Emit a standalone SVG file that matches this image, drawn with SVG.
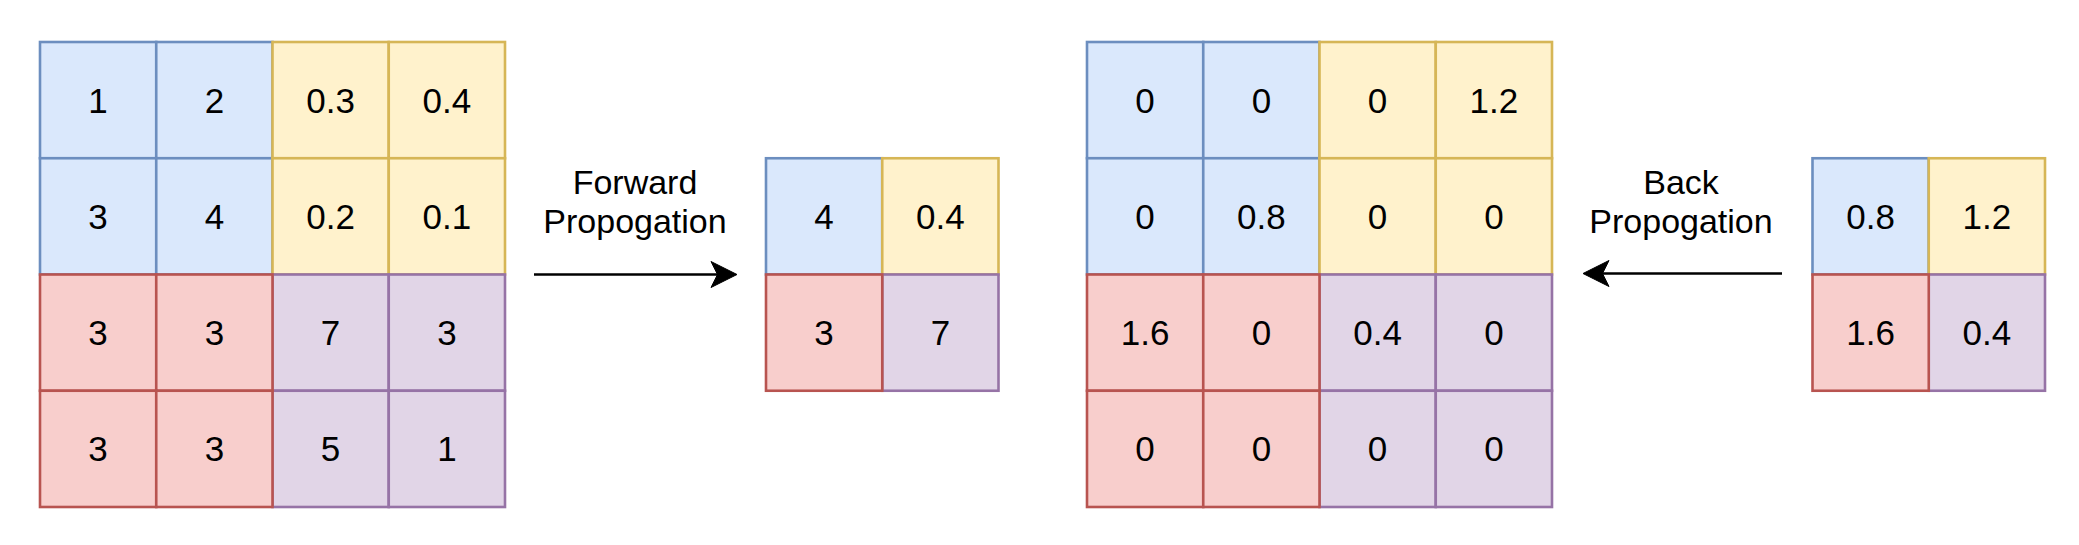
<svg xmlns="http://www.w3.org/2000/svg" width="2079" height="545" viewBox="0 0 2079 545">
<style>
.b{fill:#dae8fc;stroke:#6c8ebf;stroke-width:2.6}
.y{fill:#fff2cc;stroke:#d6b656;stroke-width:2.6}
.r{fill:#f8cecc;stroke:#b85450;stroke-width:2.6}
.p{fill:#e1d5e7;stroke:#9673a6;stroke-width:2.6}
text{font-family:"Liberation Sans",Arial,Helvetica,sans-serif;font-size:35px;fill:#000;text-anchor:middle}
.lbl{font-size:34px}
.edge{stroke:#000;stroke-width:2.6;fill:none}
.head{fill:#000;stroke:#000;stroke-width:1}
</style>
<rect width="2079" height="545" fill="#fff"/>
<g id="input-grid">
<g id="in-0-0"><rect class="b" x="40" y="42" width="116.25" height="116.25"/><text x="98.1" y="112.6">1</text></g>
<g id="in-0-1"><rect class="b" x="156.25" y="42" width="116.25" height="116.25"/><text x="214.4" y="112.6">2</text></g>
<g id="in-1-0"><rect class="b" x="40" y="158.25" width="116.25" height="116.25"/><text x="98.1" y="228.9">3</text></g>
<g id="in-1-1"><rect class="b" x="156.25" y="158.25" width="116.25" height="116.25"/><text x="214.4" y="228.9">4</text></g>
<g id="in-0-2"><rect class="y" x="272.5" y="42" width="116.25" height="116.25"/><text x="330.6" y="112.6">0.3</text></g>
<g id="in-0-3"><rect class="y" x="388.75" y="42" width="116.25" height="116.25"/><text x="446.9" y="112.6">0.4</text></g>
<g id="in-1-2"><rect class="y" x="272.5" y="158.25" width="116.25" height="116.25"/><text x="330.6" y="228.9">0.2</text></g>
<g id="in-1-3"><rect class="y" x="388.75" y="158.25" width="116.25" height="116.25"/><text x="446.9" y="228.9">0.1</text></g>
<g id="in-2-2"><rect class="p" x="272.5" y="274.5" width="116.25" height="116.25"/><text x="330.6" y="345.1">7</text></g>
<g id="in-2-3"><rect class="p" x="388.75" y="274.5" width="116.25" height="116.25"/><text x="446.9" y="345.1">3</text></g>
<g id="in-3-2"><rect class="p" x="272.5" y="390.75" width="116.25" height="116.25"/><text x="330.6" y="461.4">5</text></g>
<g id="in-3-3"><rect class="p" x="388.75" y="390.75" width="116.25" height="116.25"/><text x="446.9" y="461.4">1</text></g>
<g id="in-2-0"><rect class="r" x="40" y="274.5" width="116.25" height="116.25"/><text x="98.1" y="345.1">3</text></g>
<g id="in-2-1"><rect class="r" x="156.25" y="274.5" width="116.25" height="116.25"/><text x="214.4" y="345.1">3</text></g>
<g id="in-3-0"><rect class="r" x="40" y="390.75" width="116.25" height="116.25"/><text x="98.1" y="461.4">3</text></g>
<g id="in-3-1"><rect class="r" x="156.25" y="390.75" width="116.25" height="116.25"/><text x="214.4" y="461.4">3</text></g>
</g>
<g id="pooled-grid">
<g id="out-0-0"><rect class="b" x="766" y="158.25" width="116.25" height="116.25"/><text x="824.1" y="228.9">4</text></g>
<g id="out-0-1"><rect class="y" x="882.25" y="158.25" width="116.25" height="116.25"/><text x="940.4" y="228.9">0.4</text></g>
<g id="out-1-1"><rect class="p" x="882.25" y="274.5" width="116.25" height="116.25"/><text x="940.4" y="345.1">7</text></g>
<g id="out-1-0"><rect class="r" x="766" y="274.5" width="116.25" height="116.25"/><text x="824.1" y="345.1">3</text></g>
</g>
<g id="grad-grid">
<g id="gin-0-0"><rect class="b" x="1087" y="42" width="116.25" height="116.25"/><text x="1145.1" y="112.6">0</text></g>
<g id="gin-0-1"><rect class="b" x="1203.25" y="42" width="116.25" height="116.25"/><text x="1261.4" y="112.6">0</text></g>
<g id="gin-1-0"><rect class="b" x="1087" y="158.25" width="116.25" height="116.25"/><text x="1145.1" y="228.9">0</text></g>
<g id="gin-1-1"><rect class="b" x="1203.25" y="158.25" width="116.25" height="116.25"/><text x="1261.4" y="228.9">0.8</text></g>
<g id="gin-0-2"><rect class="y" x="1319.5" y="42" width="116.25" height="116.25"/><text x="1377.6" y="112.6">0</text></g>
<g id="gin-0-3"><rect class="y" x="1435.75" y="42" width="116.25" height="116.25"/><text x="1493.9" y="112.6">1.2</text></g>
<g id="gin-1-2"><rect class="y" x="1319.5" y="158.25" width="116.25" height="116.25"/><text x="1377.6" y="228.9">0</text></g>
<g id="gin-1-3"><rect class="y" x="1435.75" y="158.25" width="116.25" height="116.25"/><text x="1493.9" y="228.9">0</text></g>
<g id="gin-2-2"><rect class="p" x="1319.5" y="274.5" width="116.25" height="116.25"/><text x="1377.6" y="345.1">0.4</text></g>
<g id="gin-2-3"><rect class="p" x="1435.75" y="274.5" width="116.25" height="116.25"/><text x="1493.9" y="345.1">0</text></g>
<g id="gin-3-2"><rect class="p" x="1319.5" y="390.75" width="116.25" height="116.25"/><text x="1377.6" y="461.4">0</text></g>
<g id="gin-3-3"><rect class="p" x="1435.75" y="390.75" width="116.25" height="116.25"/><text x="1493.9" y="461.4">0</text></g>
<g id="gin-2-0"><rect class="r" x="1087" y="274.5" width="116.25" height="116.25"/><text x="1145.1" y="345.1">1.6</text></g>
<g id="gin-2-1"><rect class="r" x="1203.25" y="274.5" width="116.25" height="116.25"/><text x="1261.4" y="345.1">0</text></g>
<g id="gin-3-0"><rect class="r" x="1087" y="390.75" width="116.25" height="116.25"/><text x="1145.1" y="461.4">0</text></g>
<g id="gin-3-1"><rect class="r" x="1203.25" y="390.75" width="116.25" height="116.25"/><text x="1261.4" y="461.4">0</text></g>
</g>
<g id="grad-out-grid">
<g id="gout-0-0"><rect class="b" x="1812.5" y="158.25" width="116.25" height="116.25"/><text x="1870.6" y="228.9">0.8</text></g>
<g id="gout-0-1"><rect class="y" x="1928.75" y="158.25" width="116.25" height="116.25"/><text x="1986.9" y="228.9">1.2</text></g>
<g id="gout-1-1"><rect class="p" x="1928.75" y="274.5" width="116.25" height="116.25"/><text x="1986.9" y="345.1">0.4</text></g>
<g id="gout-1-0"><rect class="r" x="1812.5" y="274.5" width="116.25" height="116.25"/><text x="1870.6" y="345.1">1.6</text></g>
</g>
<g id="connectors">
<g id="forward-arrow">
<line class="edge" x1="534" y1="274.5" x2="722" y2="274.5"/>
<path class="head" d="M737,274.5 L711,261.5 L717.5,274.5 L711,287.5 Z"/>
<text class="lbl" x="635" y="194">Forward</text>
<text class="lbl" x="635" y="233">Propogation</text>
</g>
<g id="back-arrow">
<line class="edge" x1="1782" y1="273.5" x2="1598" y2="273.5"/>
<path class="head" d="M1583,273.5 L1609,260.5 L1602.5,273.5 L1609,286.5 Z"/>
<text class="lbl" x="1681" y="193.5">Back</text>
<text class="lbl" x="1681" y="232.5">Propogation</text>
</g>
</g>
</svg>
